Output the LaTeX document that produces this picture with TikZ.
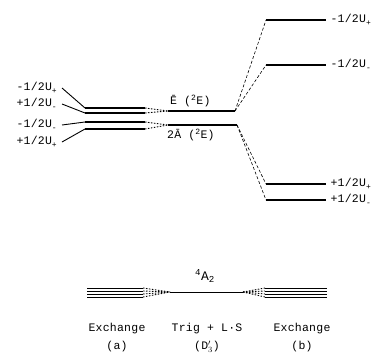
\documentclass[tikz,border=0pt]{standalone}
\usepackage{fontspec}
\newfontfamily\labelfont{Liberation Mono}[LetterSpace=2]
\usetikzlibrary{positioning}
\newcommand{\lowsub}[1]{\raisebox{-3pt}{\fontsize{8}{8}\selectfont#1}}

\begin{document}
\begin{tikzpicture}[x=1pt,y=-1pt,
    every node/.style={font=\labelfont\fontsize{11.5}{13}\selectfont,inner sep=1pt},
    level/.style={line width=1.2pt},
    thinlevel/.style={line width=0.9pt},
    link/.style={line width=0.6pt,dash pattern=on 3pt off 2pt},
    merge/.style={line width=0.9pt,dash pattern=on 1.5pt off 1.5pt}
]
\useasboundingbox (0,0) rectangle (372,356);

% upper left: exchange levels
\node[anchor=east] (u1) at (58,88)  {-1/2U\lowsub{+}};
\node[anchor=east] (u2) at (58,104) {+1/2U\lowsub{-}};
\node[anchor=east] (u3) at (58,125) {-1/2U\lowsub{-}};
\node[anchor=east] (u4) at (58,142) {+1/2U\lowsub{+}};
\foreach \i/\y in {1/108,2/113,3/122,4/129}{
  \coordinate (la\i) at (85,\y);
  \coordinate (lb\i) at (145,\y);
  \draw[level] (la\i) -- (lb\i);
  \draw[thinlevel] ([xshift=4pt]u\i.east) -- (la\i);
}

% centre: trigonal + L.S
\coordinate (E0) at (168,111);
\coordinate (E1) at (235,111);
\coordinate (A0) at (168,125);
\coordinate (A1) at (237,125);
\draw[level] (E0) -- (E1);
\draw[level] (A0) -- (A1);
\draw[merge] (lb1) -- (E0);
\draw[merge] (lb2) -- (E0);
\draw[merge] (lb3) -- (A0);
\draw[merge] (lb4) -- (A0);
\node[anchor=south west] (eLab) at (169,108) {\=E (\textsuperscript{2}E)};
\node[anchor=north west] (aLab) at (166,128) {2\=A (\textsuperscript{2}E)};

% right: exchange levels
\foreach \i/\y in {1/20,2/65,3/184,4/200}{
  \coordinate (ra\i) at (266,\y);
  \coordinate (rb\i) at (326,\y);
  \draw[level] (ra\i) -- (rb\i);
}
\node[anchor=east] (r1) at (372,20)  {-1/2U\lowsub{+}};
\node[anchor=east] (r2) at (372,65)  {-1/2U\lowsub{-}};
\node[anchor=east] (r3) at (372,184) {+1/2U\lowsub{+}};
\node[anchor=east] (r4) at (372,200) {+1/2U\lowsub{-}};
\draw[link] (E1) -- (ra1);
\draw[link] (E1) -- (ra2);
\draw[link] (A1) -- (ra3);
\draw[link] (A1) -- (ra4);

% lower: 4A2 ground state
\coordinate (c0) at (170,292);
\coordinate (c1) at (243,292);
\draw[thinlevel] (c0) -- (c1);
\foreach \i/\y in {1/288,2/291,3/294,4/297}{
  \coordinate (gl\i) at (87,\y);
  \coordinate (gr\i) at (143,\y);
  \coordinate (hl\i) at (265,\y);
  \coordinate (hr\i) at (327,\y);
  \draw[thinlevel] (gl\i) -- (gr\i);
  \draw[thinlevel] (hl\i) -- (hr\i);
  \draw[merge] (gr\i) -- (c0);
  \draw[merge] (c1) -- (hl\i);
}
\node[font=\labelfont\fontsize{13}{15}\selectfont] (gLab) at (205,276) {\textsuperscript{4}A\textsubscript{2}};

\node (exa) at (117,329) {Exchange};
\node[below=4pt of exa] (pa) {(a)};
\node (trig) at (207,329) {Trig + L·S};
\node[below=4pt of trig] (pd) {(D$_3'$)};
\node (exb) at (302,329) {Exchange};
\node[below=4pt of exb] (pb) {(b)};
\end{tikzpicture}
\end{document}
